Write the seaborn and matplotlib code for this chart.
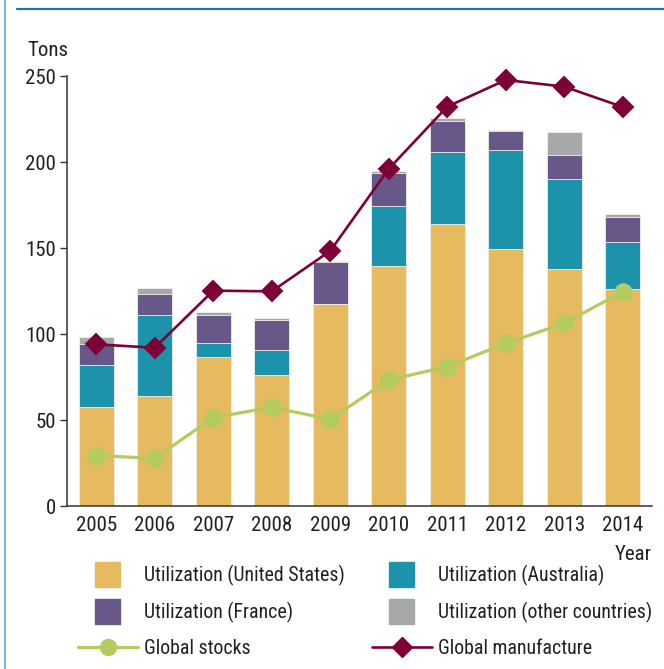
import numpy as np
import matplotlib
matplotlib.use("Agg")
import matplotlib.pyplot as plt
import seaborn as sns
from matplotlib import font_manager
from matplotlib.patches import Patch, Rectangle
from matplotlib.lines import Line2D
from matplotlib.legend_handler import HandlerPatch

# ---------- data ----------
years = ['2005', '2006', '2007', '2008', '2009', '2010', '2011', '2012', '2013', '2014']
util_us = [57.6, 64, 86.6, 76, 117.4, 139.5, 164, 149.6, 137.8, 126]
util_australia = [24.4, 47, 8.4, 14.7, 0, 34.9, 41.6, 57.4, 52.2, 27.7]
util_france = [12, 12, 16, 17.3, 24.6, 19, 18.4, 11.2, 14, 14.1]
util_other = [4, 4, 2, 1.2, 0.6, 1.4, 1.4, 0.3, 13.6, 2.2]
global_stocks = [29.3, 27.7, 51.4, 57.4, 50.4, 73.3, 81, 94.6, 106.2, 124.6]
global_manufacture = [94, 92, 125.2, 124.8, 148.3, 196, 232.2, 247.7, 243.8, 232]

labels = ['Utilization (United States)', 'Utilization (Australia)',
          'Utilization (France)', 'Utilization (other countries)',
          'Global stocks', 'Global manufacture']
c_us, c_au, c_fr, c_ot = '#E6BA5E', '#1C93AB', '#685789', '#A7A8AA'
c_stock, c_manu = '#B3CB5F', '#7D0037'

# ---------- style ----------
sns.set_theme(style='white')
installed = {f.name for f in font_manager.fontManager.ttflist}
candidates = ['Roboto Condensed', 'Archivo Narrow', 'PT Sans Narrow', 'Liberation Sans Narrow',
              'Fira Sans Condensed', 'IBM Plex Sans Condensed', 'Encode Sans Condensed',
              'Open Sans Condensed', 'Asap Condensed', 'Barlow Semi Condensed', 'Roboto']
narrow = [c for c in candidates if c in installed]
plt.rcParams['font.family'] = narrow[:1] + ['DejaVu Sans']
plt.rcParams['text.color'] = '#231F20'
plt.rcParams['xtick.color'] = '#231F20'
plt.rcParams['ytick.color'] = '#231F20'
fs = 15
fs_leg = 14.3

fig = plt.figure(figsize=(6.64, 6.69), dpi=100)
ax = fig.add_axes([67 / 664, 1 - 506 / 669, (652 - 67) / 664, (506 - 76) / 669])

# stacked bars: draw cumulative totals from top layer downward
us = np.array(util_us)
l1 = us + np.array(util_australia)
l2 = l1 + np.array(util_france)
l3 = l2 + np.array(util_other)
for vals, col in [(l3, c_ot), (l2, c_fr), (l1, c_au), (us, c_us)]:
    sns.barplot(x=years, y=vals, color=col, saturation=1, width=0.6,
                edgecolor='#F4F1EA', linewidth=0.6, ax=ax, zorder=2)

sns.pointplot(x=years, y=global_stocks, color=c_stock, markers='o',
              markersize=11.5, linewidth=2.3, ax=ax, clip_on=False, zorder=4)
sns.pointplot(x=years, y=global_manufacture, color=c_manu, markers='D',
              markersize=10, linewidth=1.9, ax=ax, clip_on=False, zorder=5)

ax.set_xlim(-0.5, 9.5)
ax.set_ylim(0, 250)
ax.set_yticks([0, 50, 100, 150, 200, 250])
ax.set_xlabel('')
ax.set_ylabel('')
ax.set_xticks(np.arange(-0.5, 10, 1), minor=True)
ax.tick_params(axis='x', which='major', length=0, pad=7, labelsize=fs)
ax.tick_params(axis='x', which='minor', length=5, width=1, direction='out', color='#333333')
ax.tick_params(axis='y', length=5, width=1, direction='out', pad=3, labelsize=fs, color='#333333', left=True)
sns.despine(ax=ax)
for s in ['left', 'bottom']:
    ax.spines[s].set_color('#333333')
    ax.spines[s].set_linewidth(1.1)

fig.text(27 / 664, 1 - 50 / 669, 'Tons', fontsize=fs, va='center', ha='left')
fig.text(652 / 664, 1 - 555 / 669, 'Year', fontsize=fs, va='center', ha='right')

# ---------- legend ----------
def square(legend, orig_handle, xdescent, ydescent, width, height, fontsize):
    w, h = 18, 18.5
    return Rectangle((-xdescent + (width - w) / 2, -ydescent + (height - h) / 2), w, h)

hmap = {Patch: HandlerPatch(patch_func=square)}
col1 = [Patch(color=c_us), Patch(color=c_fr),
        Line2D([], [], color=c_stock, lw=2.3, marker='o', markersize=11.5)]
col2 = [Patch(color=c_au), Patch(color=c_ot),
        Line2D([], [], color=c_manu, lw=1.9, marker='D', markersize=10)]
for hs, ls, x0 in [(col1, [labels[0], labels[2], labels[4]], 78),
                   (col2, [labels[1], labels[3], labels[5]], 372)]:
    leg = fig.legend(hs, ls, loc='upper left', bbox_to_anchor=(x0 / 664, 1 - 565 / 669),
                     frameon=False, fontsize=fs_leg, handlelength=3.0, handletextpad=0.3,
                     borderpad=0, borderaxespad=0, labelspacing=0.8, handler_map=hmap)

# ---------- frame lines ----------
fig.add_artist(Line2D([5 / 664, 5 / 664], [0, 1], color='#7DB6D9', lw=1.5))
fig.add_artist(Line2D([17 / 664, 1], [1 - 9 / 669, 1 - 9 / 669], color='#1C77A8', lw=1.6))

fig.savefig('out.png', dpi=100)
